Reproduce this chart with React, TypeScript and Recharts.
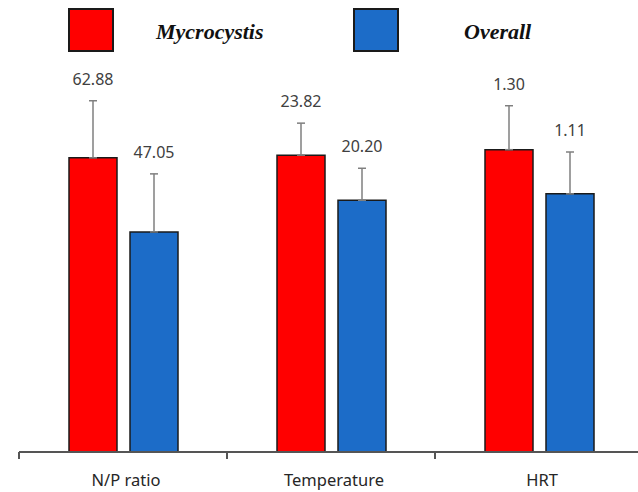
import React from 'react';
import { BarChart, Bar, XAxis, YAxis, ErrorBar, LabelList } from 'recharts';

// values; each group has its own scale (groupMax = top of plot area)
const categories = ['N/P ratio', 'Temperature', 'HRT'];
const mycrocystis = [62.88, 23.82, 1.3];
const overall = [47.05, 20.2, 1.11];
const mycrocystisErr = [12.2, 2.57, 0.189];
const overallErr = [12.4, 2.57, 0.18];
const groupMax = [85.5, 32.1, 1.72];

const RED = '#ff0000';
const BLUE = '#1c6cc8';

const data = categories.map((name, i) => ({
    name,
    i,
    myc: (mycrocystis[i] / groupMax[i]) * 100,
    ovr: (overall[i] / groupMax[i]) * 100,
    mycErr: [0, (mycrocystisErr[i] / groupMax[i]) * 100],
    ovrErr: [0, (overallErr[i] / groupMax[i]) * 100],
}));

const makeLabel = (valKey: 'myc' | 'ovr', errKey: 'mycErr' | 'ovrErr', raw: number[]) => (props: any) => {
    const vb = props.viewBox || props;
    const { x, y, width, height } = vb;
    const idx = typeof props.value === 'number' ? props.value : props.index;
    const d = data[idx];
    if (!d) return null;
    const errPx = (height * d[errKey][1]) / d[valKey];
    return (
        <text
            x={x + width / 2}
            y={y - errPx - 16}
            textAnchor="middle"
            fill="#404040"
            fontSize={16}
            fontFamily="'Noto Sans', sans-serif"
        >
            {raw[idx].toFixed(2)}
        </text>
    );
};

const CategoryTick = (props: any) => {
    const { x, y, payload } = props;
    const half = payload && payload.offset ? payload.offset : 104;
    return (
        <g>
            <line x1={x - half} y1={y} x2={x - half} y2={y + 7} stroke="#555" strokeWidth={2} />
            <text
                x={x + 3}
                y={y + 34}
                textAnchor="middle"
                fill="#262626"
                fontSize={16.5}
                fontFamily="'Noto Sans', sans-serif"
            >
                {payload.value}
            </text>
        </g>
    );
};

const legendItems = [
    { label: 'Mycrocystis', color: RED, box: 68, text: 156 },
    { label: 'Overall', color: BLUE, box: 353, text: 464 },
];

export default function App() {
    return (
        <div
            style={{
                position: 'absolute',
                left: 0,
                top: 0,
                width: 638,
                height: 492,
                overflow: 'hidden',
                background: '#fff',
            }}
        >
            {legendItems.map((it) => (
                <React.Fragment key={it.label}>
                    <div
                        style={{
                            position: 'absolute',
                            left: it.box,
                            top: 8,
                            width: 42,
                            height: 40,
                            background: it.color,
                            border: '2px solid #1a1a1a',
                        }}
                    />
                    <div
                        style={{
                            position: 'absolute',
                            left: it.text,
                            top: 17,
                            fontFamily: "'Liberation Serif', serif",
                            fontWeight: 'bold',
                            fontStyle: 'italic',
                            fontSize: 22,
                            lineHeight: '30px',
                            color: '#111',
                        }}
                    >
                        {it.label}
                    </div>
                </React.Fragment>
            ))}
            <div style={{ position: 'absolute', left: 0, top: 0 }}>
                <BarChart
                    width={648}
                    height={492}
                    data={data}
                    margin={{ top: 52, right: 5, left: 19, bottom: 0 }}
                    barGap={13}
                    barSize={48}
                >
                    <XAxis
                        dataKey="name"
                        height={40}
                        axisLine={{ stroke: '#555', strokeWidth: 2 }}
                        tickLine={false}
                        tickSize={0}
                        tickMargin={0}
                        interval={0}
                        tick={<CategoryTick />}
                    />
                    <YAxis hide domain={[0, 100]} />
                    <Bar dataKey="myc" fill={RED} stroke="#1a1a1a" strokeWidth={1.5} isAnimationActive={false}>
                        <ErrorBar dataKey="mycErr" width={4} stroke="#7f7f7f" strokeWidth={1.5} />
                        <LabelList dataKey="i" content={makeLabel('myc', 'mycErr', mycrocystis)} />
                    </Bar>
                    <Bar dataKey="ovr" fill={BLUE} stroke="#1a1a1a" strokeWidth={1.5} isAnimationActive={false}>
                        <ErrorBar dataKey="ovrErr" width={4} stroke="#7f7f7f" strokeWidth={1.5} />
                        <LabelList dataKey="i" content={makeLabel('ovr', 'ovrErr', overall)} />
                    </Bar>
                </BarChart>
            </div>
        </div>
    );
}
